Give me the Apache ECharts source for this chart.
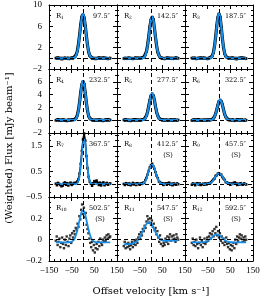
<!DOCTYPE html>
<html><head><meta charset="utf-8">
<script src="https://cdn.jsdelivr.net/npm/echarts@6/dist/echarts.min.js"></script>
<style>html,body{margin:0;padding:0;background:#fff}#c{width:263px;height:301px}</style>
</head><body><div id="c"></div>
<script>
// ---- data ----
const velocity = [-120,-115,-110,-105,-100,-95,-90,-85,-80,-75,-70,-65,-60,-55,-50,-45,-40,-35,-30,-25,-20,-15,-10,-5,0,5,10,15,20,25,30,35,40,45,50,55,60,65,70,75,80,85,90,95,100,105,110,115,120];
const velocityFine = [-120,-116,-112,-108,-104,-100,-96,-92,-88,-84,-80,-76,-72,-68,-64,-60,-56,-52,-48,-44,-40,-36,-32,-28,-24,-20,-16,-12,-8,-4,0,4,8,12,16,20,24,28,32,36,40,44,48,52,56,60,64,68,72,76,80,84,88,92,96,100,104,108,112,116,120];

const fitR1 = [0,0,0,0,0,0,0,0,0,0,0,0,0,0, 0.01,0.02,0.07,0.22,0.58,1.30,2.54,4.27,6.18,7.71, 8.30, 7.71,6.18,4.27,2.54,1.30,0.58,0.22,0.07,0.02,0.01, 0,0,0,0,0,0,0,0,0,0,0,0,0,0];
const obsR1 = [0.05,-0.08,0.1,0.02,-0.05,0.08,-0.1,0.03,0.06,-0.04,0.0,0.09,-0.06,0.04, 0.08,-0.03,0.15,0.30,0.70,1.40,2.70,4.40,6.30,7.80, 8.20, 7.60,6.10,4.20,2.45,1.20,0.50,0.25,0.05,0.06,-0.04, 0.07,-0.05,0.02,0.1,-0.07,0.04,-0.02,0.08,-0.06,0.03,0.05,-0.09,0.01,0.06];
const fitR2 = [0,0,0,0,0,0,0,0,0,0,0,0,0,0,0, 0.01,0.02,0.07,0.21,0.55,1.22,2.39,4.01,5.80,7.25, 7.80, 7.25,5.80,4.01,2.39,1.22,0.55,0.21,0.07,0.02,0.01, 0,0,0,0,0,0,0,0,0,0,0,0,0];
const obsR2 = [-0.04,0.07,0.02,-0.09,0.05,0.1,-0.03,0.06,-0.07,0.02,0.08,-0.05,0.03,0.09,-0.02, 0.05,0.1,0.12,0.30,0.62,1.30,2.50,4.10,5.90,7.20, 7.75, 7.30,5.70,3.90,2.30,1.15,0.60,0.18,0.12,-0.03,0.06, -0.06,0.04,0.08,-0.03,0.05,-0.08,0.02,0.07,-0.04,0.03,0.09,-0.05,0.01];
const fitR3 = [0,0,0,0,0,0,0,0,0,0,0,0,0,0,0, 0.01,0.03,0.12,0.37,0.96,2.09,3.85,5.94,7.70, 8.40, 7.70,5.94,3.85,2.09,0.96,0.37,0.12,0.03,0.01, 0,0,0,0,0,0,0,0,0,0,0,0,0,0,0];
const obsR3 = [0.06,-0.05,0.03,0.09,-0.07,0.02,0.05,-0.03,0.08,-0.06,0.04,0.1,-0.02,0.03,-0.08, 0.07,0.1,0.20,0.45,1.05,2.20,3.95,6.05,7.65, 8.35, 7.75,5.85,3.75,2.00,0.90,0.40,0.15,0.06,-0.03, 0.05,-0.06,0.08,0.02,-0.04,0.07,-0.09,0.03,0.05,-0.02,0.09,-0.06,0.04,0.01,-0.05];
const fitR4 = [0,0,0,0,0,0,0,0,0,0,0,0,0,0,0, 0.01,0.02,0.09,0.27,0.70,1.52,2.79,4.31,5.59, 6.10, 5.59,4.31,2.79,1.52,0.70,0.27,0.09,0.02,0.01, 0,0,0,0,0,0,0,0,0,0,0,0,0,0,0];
const obsR4 = [-0.03,0.06,0.09,-0.05,0.02,-0.08,0.05,0.07,-0.02,0.04,-0.06,0.08,0.01,-0.04,0.06, 0.04,0.08,0.16,0.35,0.78,1.60,2.85,4.35,5.55, 6.05, 5.62,4.25,2.72,1.45,0.66,0.31,0.12,0.05,0.02, -0.05,0.07,0.02,-0.06,0.04,0.08,-0.03,0.05,-0.07,0.02,0.06,-0.04,0.09,-0.02,0.03];
const fitR5 = [0,0,0,0,0,0,0,0,0,0,0,0,0,0,0,0, 0.01,0.04,0.11,0.29,0.66,1.29,2.16,3.12,3.90, 4.20, 3.90,3.12,2.16,1.29,0.66,0.29,0.11,0.04,0.01, 0,0,0,0,0,0,0,0,0,0,0,0,0,0];
const obsR5 = [0.04,-0.06,0.08,0.02,-0.04,0.07,-0.08,0.03,0.05,-0.02,0.09,-0.05,0.03,0.06,-0.03,0.04, 0.06,0.08,0.15,0.32,0.70,1.35,2.20,3.10,3.85, 4.15, 3.88,3.15,2.10,1.25,0.70,0.32,0.12,0.07,-0.02, 0.05,-0.07,0.03,0.08,-0.04,0.02,0.06,-0.05,0.04,-0.08,0.07,0.01,-0.03,0.05];
const fitR6 = [0,0,0,0,0,0,0,0,0,0,0,0,0,0,0,0, 0.01,0.03,0.09,0.22,0.50,0.98,1.64,2.38,2.97, 3.20, 2.97,2.38,1.64,0.98,0.50,0.22,0.09,0.03,0.01, 0,0,0,0,0,0,0,0,0,0,0,0,0,0];
const obsR6 = [-0.05,0.03,0.07,-0.02,0.05,-0.07,0.09,0.02,-0.04,0.06,-0.03,0.08,0.03,-0.06,0.04,0.07, 0.02,0.06,0.12,0.25,0.52,1.00,1.62,2.35,2.95, 3.18, 2.98,2.40,1.66,0.95,0.52,0.24,0.08,0.05,0.03, -0.04,0.06,0.02,-0.07,0.05,0.08,-0.03,0.04,-0.06,0.07,0.02,-0.05,0.06,0.01];
const fitR7 = [0,0,0,0,0,0,0,0,0,0,0,0,0,0,0,0,0,0, 0.01,0.04,0.13,0.33,0.69,1.16,1.58, 1.75, 1.58,1.16,0.69,0.33,0.13,0.04,0.01, 0,0,0,0,0,0,0,0,0,0,0,0,0,0,0,0];
const obsR7 = [0.02,-0.04,0.05,0.01,-0.03,-0.08,-0.06,0.03,0.07,-0.02,0.04,-0.05,0.02,0.06,-0.03,0.01,0.05,0.04, 0.06,0.10,0.20,0.42,0.80,1.30,1.75, 1.98, 1.70,1.10,0.62,0.28,0.10,0.02,-0.06, 0.04,0.12,0.09,0.14,0.05,-0.03,0.06,-0.05,0.03,0.07,-0.04,0.02,0.05,-0.02,0.01,0.03];
const fitR8 = [0,0,0,0,0,0,0,0,0,0,0,0,0,0, 0.00,0.01,0.01,0.03,0.07,0.13,0.22,0.35,0.49,0.63,0.72, 0.76, 0.72,0.63,0.49,0.35,0.22,0.13,0.07,0.03,0.01,0.01,0.00, 0,0,0,0,0,0,0,0,0,0,0,0];
const obsR8 = [0.01,-0.03,0.04,0.02,-0.02,0.03,-0.04,0.00,0.05,-0.01,0.02,-0.03,0.04,0.01, -0.02,0.03,0.01,0.06,0.05,0.16,0.25,0.38,0.52,0.66,0.74, 0.80, 0.70,0.60,0.47,0.33,0.24,0.11,0.08,0.02,0.04,-0.03,0.02, 0.03,-0.02,0.04,0.06,-0.01,0.02,-0.04,0.03,0.01,-0.02,0.03,0.00];
const fitR9 = [0,0,0,0,0,0,0,0,0,0,0,0, 0.00,0.00,0.01,0.02,0.04,0.06,0.10,0.16,0.23,0.30,0.36,0.40, 0.42, 0.40,0.36,0.30,0.23,0.16,0.10,0.06,0.04,0.02,0.01,0.00,0.00, 0,0,0,0,0,0,0,0,0,0,0,0];
const obsR9 = [-0.02,0.03,0.01,-0.04,0.02,0.04,-0.01,0.03,-0.03,0.00,0.02,-0.02, 0.03,-0.01,0.02,0.04,0.02,0.08,0.13,0.18,0.22,0.32,0.35,0.41, 0.43, 0.38,0.37,0.28,0.22,0.17,0.08,0.07,0.02,0.04,-0.02,0.03,0.01, 0.05,0.07,0.03,-0.03,0.02,-0.01,0.04,0.00,-0.02,0.03,0.01,-0.01];
const fitR10 = [-0.025,-0.025,-0.025,-0.025,-0.025,-0.025,-0.025,-0.025,-0.025,-0.025,-0.025,-0.025, -0.024,-0.022,-0.019,-0.012,0.000,0.020,0.050,0.089,0.137,0.187,0.232,0.264, 0.275, 0.264,0.232,0.187,0.137,0.089,0.050,0.020,0.000,-0.012,-0.019,-0.022,-0.024, -0.025,-0.025,-0.025,-0.025,-0.025,-0.025,-0.025,-0.025,-0.025,-0.025,-0.025,-0.025];
const obsR10 = [-0.01,0.03,-0.05,-0.02,0.01,-0.07,-0.03,0.02,-0.04,-0.08, 0.00,-0.05,0.03,-0.02,-0.06,0.01,0.04,-0.03,0.06,0.02, 0.08,0.05,0.11,0.09,0.15,0.12,0.22,0.19,0.28,0.33, 0.24, 0.30,0.21,0.25,0.14,0.10,0.06,0.01,-0.03,-0.07,-0.02, -0.10,-0.05,-0.12,-0.08,-0.04,-0.09,-0.02,-0.06,0.01,-0.03, -0.05,0.00,-0.02,0.02,-0.01,0.04,0.01,0.05,0.02,0.03];
const fitR11 = [-0.045,-0.044,-0.043,-0.042,-0.041,-0.040,-0.039,-0.037,-0.035,-0.031,-0.026,-0.019,-0.009,0.003,0.020,0.039,0.061,0.085,0.108,0.130,0.147,0.159,0.163,0.160,0.150,0.135,0.115,0.093,0.071,0.050,0.033,0.018,0.007,-0.001,-0.006,-0.009,-0.011,-0.012,-0.012,-0.012,-0.011,-0.011,-0.010,-0.009,-0.008,-0.008,-0.007,-0.006,-0.005];
const obsR11 = [-0.06,-0.02,-0.08,-0.04,-0.07,-0.03,-0.06,-0.09,-0.05,-0.02, -0.07,-0.04,-0.01,-0.05,0.00,-0.03,0.02,0.05,0.01,0.07, 0.04,0.10,0.08,0.13,0.11,0.17,0.22,0.19,0.16,0.20, 0.14, 0.18,0.12,0.15,0.09,0.11,0.05,0.08,0.02,-0.02,0.04, -0.04,0.00,-0.06,-0.03,-0.05,0.01,-0.02,0.03,-0.04,0.02, 0.05,-0.01,0.03,0.00,0.04,0.01,-0.02,0.05,0.02,0.00];
const fitR12 = [-0.025,-0.025,-0.025,-0.025,-0.025,-0.025,-0.025,-0.025, -0.025,-0.024,-0.023,-0.022,-0.019,-0.016,-0.011,-0.004,0.005,0.014,0.025,0.034,0.043,0.048,0.050,0.048,0.043,0.034,0.025,0.014,0.005,-0.004,-0.011,-0.016,-0.019,-0.022,-0.023,-0.024,-0.025, -0.025,-0.025,-0.025,-0.025,-0.025,-0.025,-0.025,-0.025,-0.025,-0.025,-0.025,-0.025];
const obsR12 = [-0.03,0.01,-0.05,-0.02,-0.06,0.00,-0.04,-0.08,-0.03,0.02, -0.05,-0.01,-0.07,-0.03,0.01,-0.04,-0.02,0.02,-0.01,0.03, 0.06,0.01,0.05,0.08,0.03,0.10,0.06,0.12,0.04,0.08, 0.02, 0.06,-0.01,0.03,-0.03,0.01,-0.05,-0.02,0.02,-0.04,-0.07, -0.03,-0.09,-0.05,-0.10,-0.06,-0.03,-0.08,0.00,-0.04,0.03, -0.01,0.02,0.05,0.01,0.04,-0.02,0.02,-0.01,0.03,0.00];

const regionIndex = ['1','2','3','4','5','6','7','8','9','10','11','12'];
const offsetLabels = ['97.5″','142.5″','187.5″','232.5″','277.5″','322.5″','367.5″','412.5″','457.5″','502.5″','547.5″','592.5″'];
const smoothedFlag = [false,false,false,false,false,false,false,true,true,true,true,true];
const rowYMin = [-2,-2,-0.5,-0.2];
const rowYMax = [10,8,2,0.4];
const rowYInterval = [4,2,1,0.2];
const rowYMinorSplit = [4,2,5,4];
const xTitle = 'Offset velocity [km s⁻¹]';
const yTitle = '(Weighted) Flux [mJy beam⁻¹]';

const fits = [fitR1,fitR2,fitR3,fitR4,fitR5,fitR6,fitR7,fitR8,fitR9,fitR10,fitR11,fitR12];
const obs = [obsR1,obsR2,obsR3,obsR4,obsR5,obsR6,obsR7,obsR8,obsR9,obsR10,obsR11,obsR12];

// ---- layout ----
const L = 49, T = 5, W = 68, H = 64;
const FONT = 'DejaVu Serif';
const TICKFONT = 'Liberation Serif';
const BLUE = '#168ce6';
const fmt = v => String(+(+v).toFixed(2)).replace('-', '−');

const grids = [], xAxes = [], yAxes = [], series = [], graphics = [];
const tickBase = {axisLine:{onZero:false,lineStyle:{color:'#000',width:1}}, splitLine:{show:false}, minorSplitLine:{show:false}};
for (let k = 0; k < 12; k++) {
  const r = Math.floor(k / 3), c = k % 3;
  const left = L + c * W, top = T + r * H;
  grids.push({left: left, top: top, width: W, height: H});
  const xCommon = Object.assign({type:'value', gridIndex:k, min:-150, max:150, interval:100,
    axisTick:{inside:true,length:4,lineStyle:{color:'#000'}},
    minorTick:{show:true,splitNumber:4,length:2,lineStyle:{color:'#000'}}}, tickBase);
  xAxes.push(Object.assign({}, xCommon, {position:'bottom',
    axisLabel:{show: r === 3, showMinLabel: c === 0, showMaxLabel:true, margin:5, fontFamily:TICKFONT, fontSize:9, color:'#000', formatter: fmt}}));
  xAxes.push(Object.assign({}, xCommon, {position:'top', axisLabel:{show:false}}));
  const yCommon = Object.assign({type:'value', gridIndex:k, min:rowYMin[r], max:rowYMax[r], interval:rowYInterval[r],
    axisTick:{inside:true,length:4,lineStyle:{color:'#000'}},
    minorTick:{show:true,splitNumber:rowYMinorSplit[r],length:2,lineStyle:{color:'#000'}}}, tickBase);
  yAxes.push(Object.assign({}, yCommon, {position:'left',
    axisLabel:{show: c === 0, showMinLabel:true, showMaxLabel: r === 0, margin:7, fontFamily:TICKFONT, fontSize:9, color:'#000', formatter: fmt}}));
  yAxes.push(Object.assign({}, yCommon, {position:'right', axisLabel:{show:false}}));

  const xi = 2 * k, yi = 2 * k;
  const fitData = velocity.map((v, i) => [v, fits[k][i]]);
  if (r < 3) {
    series.push({type:'line', xAxisIndex:xi, yAxisIndex:yi, data: velocity.map((v, i) => [v, obs[k][i]]),
      symbol:'rect', symbolSize:2.5, showSymbol:true, itemStyle:{color:'#000'}, lineStyle:{color:'#000', width: r < 2 ? 3.2 : 1.6},
      z:2, silent:true,
      markLine:{silent:true, symbol:['none','none'], label:{show:false}, lineStyle:{color:'#000', type:[4,3], width:1},
        data:[{xAxis:0},{yAxis:0}]}});
  } else {
    series.push({type:'scatter', xAxisIndex:xi, yAxisIndex:yi, data: velocityFine.map((v, i) => [v, obs[k][i]]),
      symbol:'rect', symbolSize:2.4, itemStyle:{color:'#000'}, z:2, silent:true,
      markLine:{silent:true, symbol:['none','none'], label:{show:false}, lineStyle:{color:'#000', type:[4,3], width:1},
        data:[{xAxis:0},{yAxis:0}]}});
  }
  series.push({type:'line', xAxisIndex:xi, yAxisIndex:yi, data: fitData, smooth:0.3, showSymbol:false, symbol:'none',
    lineStyle:{color:BLUE, width: r < 2 ? 2.2 : 1.8}, z:3, silent:true});

  graphics.push({type:'text', x:left + 7, y:top + 11, style:{text:'R', font:'7px ' + FONT, fill:'#000', align:'left', verticalAlign:'middle'}});
  graphics.push({type:'text', x:left + 12, y:top + 13, style:{text:regionIndex[k], font:'4.5px ' + FONT, fill:'#000', align:'left', verticalAlign:'middle'}});
  graphics.push({type:'text', x:left + 61, y:top + 11, style:{text:offsetLabels[k], font:'6.5px ' + FONT, fill:'#000', align:'right', verticalAlign:'middle'}});
  if (smoothedFlag[k]) {
    graphics.push({type:'text', x:left + 51, y:top + 22, style:{text:'(S)', font:'6.5px ' + FONT, fill:'#000', align:'center', verticalAlign:'middle'}});
  }
}
graphics.push({type:'text', x:151, y:291, style:{text:xTitle, font:'10px ' + FONT, fill:'#000', align:'center', verticalAlign:'middle'}});
graphics.push({type:'text', x:9, y:148, rotation:Math.PI/2, style:{text:yTitle, font:'10px ' + FONT, fill:'#000', align:'center', verticalAlign:'middle'}});

const chart = echarts.init(document.getElementById('c'), null, {renderer:'canvas'});
chart.setOption({animation:false, grid:grids, xAxis:xAxes, yAxis:yAxes, series:series, graphic:{elements:graphics}});
</script></body></html>
